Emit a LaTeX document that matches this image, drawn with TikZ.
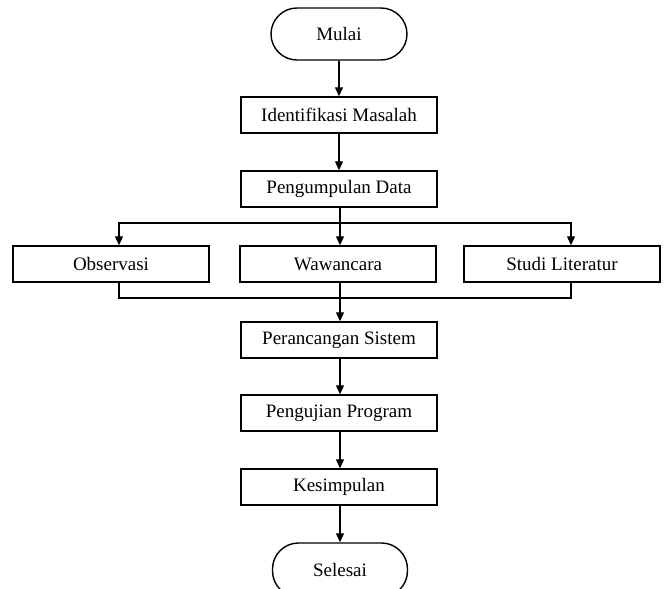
\documentclass[tikz,border=0pt]{standalone}
\usepackage{fontspec}
\setmainfont{Liberation Serif}
\usetikzlibrary{calc}
\usetikzlibrary{arrows.meta}

\begin{document}
\begin{tikzpicture}[x=1pt, y=1pt,
    proses/.style={draw, line width=1.4pt, minimum width=196pt, minimum height=36pt, inner sep=0pt, font=\fontsize{19}{21}\selectfont},
    terminal/.style={draw, line width=1.4pt, rounded corners=26pt, minimum width=136pt, minimum height=52pt, inner sep=0pt, font=\fontsize{19}{21}\selectfont},
    alur/.style={line width=1.2pt, -{Triangle[length=9pt, width=8pt]}},
    garis/.style={line width=1.2pt}]%
        \useasboundingbox (0,0) rectangle (665,-589);
        \node [terminal] (mulai) at (339,-34) {Mulai};
        \node [proses] (identifikasi) at (339,-115) {Identifikasi Masalah};
        \node [proses] (pengumpulan) at (339,-189) {Pengumpulan Data};
        \node [proses] (observasi) at (111,-264) {Observasi};
        \node [proses] (wawancara) at (338,-264) {Wawancara};
        \node [proses] (studi) at (562,-264) {Studi Literatur};
        \node [proses] (perancangan) at (339,-340) {Perancangan Sistem};
        \node [proses] (pengujian) at (339,-413) {Pengujian Program};
        \node [proses] (kesimpulan) at (339,-487) {Kesimpulan};
        \node [terminal, minimum width=135pt, minimum height=54pt] (selesai) at (340,-570) {Selesai};
        \coordinate (cabang) at (340,-223);
        \coordinate (gabung) at (340,-298);
        \draw [alur] (mulai) -- (identifikasi);
        \draw [alur] (identifikasi) -- (pengumpulan);
        \draw [garis] (pengumpulan.south -| cabang) -- (cabang);
        \draw [alur] (cabang) -| ([xshift=8pt]observasi.north);
        \draw [alur] (cabang) -- (wawancara.north -| cabang);
        \draw [alur] (cabang) -| ([xshift=9pt]studi.north);
        \draw [garis] ([xshift=8pt]observasi.south) |- (gabung);
        \draw [garis] ([xshift=9pt]studi.south) |- (gabung);
        \draw [alur] (wawancara.south -| gabung) -- (perancangan.north -| gabung);
        \draw [alur] (perancangan.south -| gabung) -- (pengujian.north -| gabung);
        \draw [alur] (pengujian.south -| gabung) -- (kesimpulan.north -| gabung);
        \draw [alur] (kesimpulan.south -| gabung) -- (selesai);
    \end{tikzpicture}
\end{document}
